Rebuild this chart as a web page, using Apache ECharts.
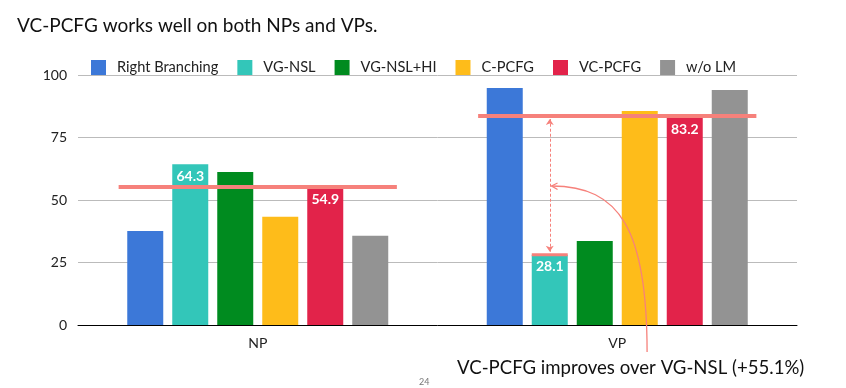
<!DOCTYPE html>
<html><head><meta charset="utf-8">
<script src="https://cdn.jsdelivr.net/npm/echarts@6/dist/echarts.min.js"></script>
<style>html,body{margin:0;padding:0;background:#fff}#c{width:846px;height:388px}</style>
</head><body><div id="c"></div>
<script>
// ---- data ----
const categories = ['NP', 'VP'];
const seriesNames = ['Right Branching', 'VG-NSL', 'VG-NSL+HI', 'C-PCFG', 'VC-PCFG', 'w/o LM'];
const rightBranching = [37.6, 94.8];
const vgNsl = [64.3, 28.1];
const vgNslHi = [61.2, 33.6];
const cPcfg = [43.3, 85.6];
const vcPcfg = [54.9, 83.2];
const woLm = [35.7, 94.0];
const refLineValues = [55.2, 83.6];          // thick salmon lines drawn in each group
const yTicks = [0, 25, 50, 75, 100];
const titleText = 'VC-PCFG works well on both NPs and VPs.';
const noteText = 'VC-PCFG improves over VG-NSL (+55.1%)';
const pageNo = '24';

// ---- style ----
const colors = ['#3c78d8', '#33c6b9', '#008b1f', '#febc1a', '#e2234a', '#939393'];
const salmon = '#f6817b';
const FONT = 'Lato, "Open Sans", sans-serif';
const allValues = [rightBranching, vgNsl, vgNslHi, cPcfg, vcPcfg, woLm];
const labelled = [1, 4];

const chart = echarts.init(document.getElementById('c'), null, {renderer: 'canvas'});

// geometry helpers in "category units" on hidden value x axis (each category spans 1)
const barStep = 45 / 359.5;
const barCenter = (cat, s) => cat + 0.5 + (s - 2.5) * barStep;
const refHalf = 0.387;

const barSeries = allValues.map((vals, i) => ({
  name: seriesNames[i], type: 'bar', data: vals, barWidth: 36, barGap: '25%',
  itemStyle: {color: colors[i]}, z: 2,
  label: labelled.includes(i) ? {
    show: true, position: 'insideTop', distance: 5, color: '#fff',
    fontFamily: FONT, fontWeight: 'bold', fontSize: 14,
    formatter: p => p.value.toFixed(1)
  } : {show: false}
}));

const refSeries = refLineValues.map((v, c) => ({
  type: 'line', xAxisIndex: 1, yAxisIndex: 0, symbol: 'none', silent: true, z: 5,
  data: [[c + 0.5 - refHalf, v], [c + 0.5 + refHalf, v]],
  lineStyle: {color: salmon, width: 4}
}));

const vpIdx = 1, vgIdx = 1;
const capSeries = {
  type: 'line', xAxisIndex: 1, yAxisIndex: 0, symbol: 'none', silent: true, z: 5,
  data: [[barCenter(vpIdx, vgIdx) - 0.05, vgNsl[vpIdx]], [barCenter(vpIdx, vgIdx) + 0.05, vgNsl[vpIdx]]],
  lineStyle: {color: salmon, width: 3}
};

const arrowSeries = {
  type: 'lines', coordinateSystem: 'cartesian2d', xAxisIndex: 1, yAxisIndex: 0, z: 6, silent: true,
  symbol: ['arrow', 'arrow'], symbolSize: 6,
  data: [{coords: [[barCenter(vpIdx, vgIdx), vgNsl[vpIdx] + 1.2], [barCenter(vpIdx, vgIdx), refLineValues[vpIdx] - 1.2]]}],
  lineStyle: {color: salmon, width: 1, type: [3, 2], opacity: 1}
};

chart.setOption({
  animation: false,
  textStyle: {fontFamily: FONT},
  title: {text: titleText, left: 12, top: 11,
    textStyle: {fontFamily: FONT, fontWeight: 'normal', fontSize: 19, color: '#111'}},
  legend: {
    data: seriesNames, left: 86, top: 55, itemWidth: 15, itemHeight: 15, itemGap: 19,
    icon: 'rect',
    textStyle: {fontFamily: FONT, fontSize: 14.6, color: '#222', padding: [0, 0, 0, 6]}
  },
  grid: {left: 78, right: 49, top: 75, bottom: 63, containLabel: false},
  xAxis: [
    {type: 'category', data: categories,
     axisLine: {lineStyle: {color: '#000', width: 1}}, axisTick: {show: false},
     axisLabel: {fontFamily: FONT, fontSize: 14, color: '#222', margin: 11}},
    {type: 'value', min: 0, max: 2, show: false}
  ],
  yAxis: {type: 'value', min: 0, max: 100, interval: 25,
    axisLine: {show: false}, axisTick: {show: false},
    splitLine: {lineStyle: {color: '#bbbbbb', width: 1}},
    axisLabel: {fontFamily: FONT, fontSize: 14, color: '#222', margin: 11,
      formatter: v => yTicks.includes(v) ? String(v) : ''}},
  series: [...barSeries, ...refSeries, capSeries, arrowSeries]
});

// curved annotation arrow, located through the axes' scales
const P = (x, y) => chart.convertToPixel({xAxisIndex: 1, yAxisIndex: 0}, [x, y]);
const start = P(1.583, -10.8);
const c1 = P(1.583, 38);
const c2 = P(1.508, 55.6);
const tip = P(barCenter(vpIdx, vgIdx) + 0.005, 55.6);
chart.setOption({
  graphic: [
    {type: 'bezierCurve', z: 100, silent: true,
     shape: {x1: start[0], y1: start[1], cpx1: c1[0], cpy1: c1[1], cpx2: c2[0], cpy2: c2[1], x2: tip[0], y2: tip[1]},
     style: {stroke: salmon, lineWidth: 1.3, fill: null}},
    {type: 'polyline', z: 100, silent: true,
     shape: {points: [[tip[0] + 6, tip[1] - 3], [tip[0], tip[1]], [tip[0] + 6, tip[1] + 3.5]]},
     style: {stroke: salmon, lineWidth: 1.3, fill: null}},
    {type: 'text', left: 457, top: 358, z: 100,
     style: {text: noteText, fontFamily: FONT, fontSize: 18.6, fill: '#111'}},
    {type: 'text', left: 419, top: 378, z: 100,
     style: {text: pageNo, fontFamily: FONT, fontSize: 9, fill: '#777'}}
  ]
});
</script></body></html>
